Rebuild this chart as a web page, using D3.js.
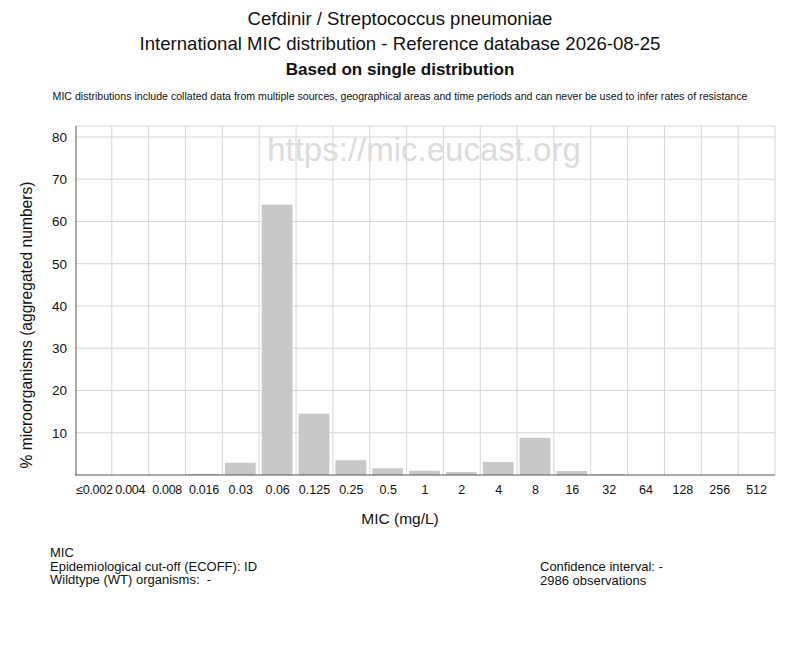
<!DOCTYPE html>
<html>
<head>
<meta charset="utf-8">
<script src="https://cdn.jsdelivr.net/npm/d3@7"></script>
<style>
  body { margin: 0; background: #fff; }
  text { font-family: "Liberation Sans", Arial, sans-serif; fill: #111; white-space: pre; }
</style>
</head>
<body>
<div id="chart"></div>
<script>
const mics = ["≤0.002", "0.004", "0.008", "0.016", "0.03", "0.06", "0.125", "0.25", "0.5",
  "1", "2", "4", "8", "16", "32", "64", "128", "256", "512"];
const percents = [0, 0, 0, 0.25, 2.9, 64.0, 14.5, 3.5, 1.6, 1.0, 0.7, 3.1, 8.8, 0.95, 0.2, 0, 0, 0, 0];
const yTicks = [10, 20, 30, 40, 50, 60, 70, 80];

const titles = ["Cefdinir / Streptococcus pneumoniae",
  "International MIC distribution - Reference database 2026-08-25",
  "Based on single distribution"];
const note = "MIC distributions include collated data from multiple sources, geographical areas and time periods and can never be used to infer rates of resistance";
const infoLeft = ["MIC", "Epidemiological cut-off (ECOFF): ID", "Wildtype (WT) organisms:  -"];
const infoRight = ["Confidence interval: -", "2986 observations"];

const width = 800, height = 650;
const plot = {left: 75, right: 775, top: 126, bottom: 475};

const svg = d3.select("#chart")
  .append("svg")
    .attr("width", width)
    .attr("height", height);

const x = d3.scaleBand()
  .domain(mics)
  .range([plot.left, plot.right]);

const y = d3.scaleLinear()
  .domain([0, 82.6])
  .range([plot.bottom, plot.top]);

// titles
svg.selectAll(".title")
  .data(titles)
  .enter()
  .append("text")
    .attr("x", 400)
    .attr("y", (d, i) => 25 + i * 25)
    .attr("text-anchor", "middle")
    .style("font-size", (d, i) => i == 2 ? "17px" : "18.6px")
    .style("font-weight", (d, i) => i == 2 ? "bold" : "normal")
    .text(d => d);

svg.append("text")
  .attr("x", 400).attr("y", 100)
  .attr("text-anchor", "middle")
  .style("font-size", "10.6px")
  .text(note);

// grid
const grid = svg.append("g");
grid.selectAll(".hg")
  .data(yTicks)
  .enter()
  .append("line")
    .attr("x1", plot.left).attr("x2", plot.right)
    .attr("y1", d => y(d)).attr("y2", d => y(d))
    .style("stroke", "#d6d6d6");
grid.selectAll(".vg")
  .data(mics.slice(1))
  .enter()
  .append("line")
    .attr("x1", d => x(d)).attr("x2", d => x(d))
    .attr("y1", plot.top).attr("y2", plot.bottom)
    .style("stroke", "#d6d6d6");
grid.append("line")
  .attr("x1", plot.left).attr("x2", plot.right)
  .attr("y1", plot.top).attr("y2", plot.top)
  .style("stroke", "#d6d6d6");
grid.append("line")
  .attr("x1", plot.right).attr("x2", plot.right)
  .attr("y1", plot.top).attr("y2", plot.bottom)
  .style("stroke", "#d6d6d6");

// watermark
svg.append("text")
  .attr("x", 424).attr("y", 161)
  .attr("text-anchor", "middle")
  .style("font-size", "33px")
  .style("fill", "#dcdcdc")
  .text("https://mic.eucast.org");

// bars
svg.append("g")
  .selectAll("rect")
  .data(mics)
  .enter()
  .append("rect")
    .attr("x", d => x(d) + 2.5)
    .attr("width", x.bandwidth() - 6)
    .attr("y", (d, i) => y(percents[i]))
    .attr("height", (d, i) => y(0) - y(percents[i]))
    .style("fill", "#c8c8c8");

// axes
svg.append("line")
  .attr("x1", plot.left + 1).attr("x2", plot.left + 1)
  .attr("y1", plot.top).attr("y2", plot.bottom)
  .style("stroke", "#555");
svg.append("line")
  .attr("x1", plot.left).attr("x2", plot.right)
  .attr("y1", plot.bottom).attr("y2", plot.bottom)
  .style("stroke", "#555");

svg.selectAll(".yt")
  .data(yTicks)
  .enter()
  .append("text")
    .attr("x", 67)
    .attr("y", d => y(d) + 5)
    .attr("text-anchor", "end")
    .style("font-size", "13.5px")
    .text(d => d);

svg.selectAll(".xt")
  .data(mics)
  .enter()
  .append("text")
    .attr("x", (d, i) => x(d) + x.bandwidth() / 2 + (i == 0 ? 1 : 0))
    .attr("y", 494)
    .attr("text-anchor", "middle")
    .style("font-size", "12.5px")
    .style("letter-spacing", (d, i) => i < 4 ? "-0.3px" : "0px")
    .text(d => d);

svg.append("text")
  .attr("x", 400).attr("y", 524)
  .attr("text-anchor", "middle")
  .style("font-size", "15.5px")
  .text("MIC (mg/L)");

svg.append("text")
  .attr("transform", "translate(32,325) rotate(-90)")
  .attr("text-anchor", "middle")
  .style("font-size", "15.6px")
  .text("% microorganisms (aggregated numbers)");

// info block
svg.selectAll(".il")
  .data(infoLeft)
  .enter()
  .append("text")
    .attr("x", 50)
    .attr("y", (d, i) => 557 + i * 13.5)
    .style("font-size", "13px")
    .text(d => d);
svg.selectAll(".ir")
  .data(infoRight)
  .enter()
  .append("text")
    .attr("x", 540)
    .attr("y", (d, i) => 571 + i * 13.5)
    .style("font-size", "13px")
    .text(d => d);
</script>
</body>
</html>
